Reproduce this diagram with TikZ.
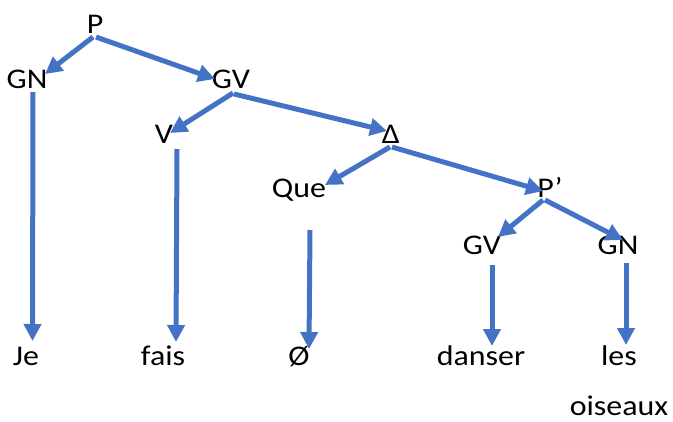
\documentclass[tikz,border=0pt]{standalone}
\usepackage{fontspec}
\setmainfont{Carlito}[FakeStretch=1.12]
\usetikzlibrary{arrows.meta}
\definecolor{officeblue}{HTML}{4472C4}
\begin{document}
\begin{tikzpicture}[x=1pt,y=-1pt,
  lbl/.style={anchor=base,inner sep=0pt,font=\fontsize{28.5}{34}\selectfont},
  conn/.style={draw=officeblue,line width=5pt,-{Triangle[length=17pt,width=17pt]}}]
\useasboundingbox (0,0) rectangle (673,421);
\node[lbl] (P) at (95,33) {P};
\node[lbl] (GNa) at (27,88) {GN};
\node[lbl] (GVa) at (231,88) {GV};
\node[lbl] (V) at (164,143) {V};
\node[lbl] (D) at (391,143) {Δ};
\node[lbl] (Que) at (299,197) {Que};
\node[lbl] (Pp) at (550,197) {P’};
\node[lbl] (GVb) at (482,254) {GV};
\node[lbl] (GNb) at (618,254) {GN};
\node[lbl] (Je) at (26,365) {Je};
\node[lbl] (fais) at (163,365) {fais};
\node[lbl] (O) at (299,365) {Ø};
\node[lbl] (danser) at (481,365) {danser};
\node[lbl] (les) at (619,365) {les};
\node[lbl] (ois) at (619,415) {oiseaux};
% tree connectors
\draw[conn] ([shift={(-2,4)}]P.base) -- ([shift={(18,-14)}]GNa.base);
\draw[conn] ([shift={(1,4)}]P.base) -- ([shift={(-16,-9)}]GVa.base);
\draw[conn] ([shift={(2,5)}]GVa.base) -- ([shift={(6,-10)}]V.base);
\draw[conn] ([shift={(3,6)}]GVa.base) -- ([shift={(-4,-12)}]D.base);
\draw[conn] ([shift={(-1,4)}]D.base) -- ([shift={(26,-12)}]Que.base);
\draw[conn] ([shift={(1,4)}]D.base) -- ([shift={(-7,-6)}]Pp.base);
\draw[conn] ([shift={(-7,3)}]Pp.base) -- ([shift={(16,-17)}]GVb.base);
\draw[conn] ([shift={(-5,3)}]Pp.base) -- ([shift={(5,-14)}]GNb.base);
% vertical connectors
\draw[conn] ([shift={(6,4)}]GNa.base) -- ([shift={(6.5,-24)}]Je.base);
\draw[conn] ([shift={(13,6)}]V.base) -- ([shift={(13,-23)}]fais.base);
\draw[conn] ([shift={(11,33)}]Que.base) -- ([shift={(10,-16)}]O.base);
\draw[conn] ([shift={(10,11)}]GVb.base) -- ([shift={(11,-19)}]danser.base);
\draw[conn] ([shift={(8,9)}]GNb.base) -- ([shift={(7,-20)}]les.base);
\end{tikzpicture}
\end{document}
